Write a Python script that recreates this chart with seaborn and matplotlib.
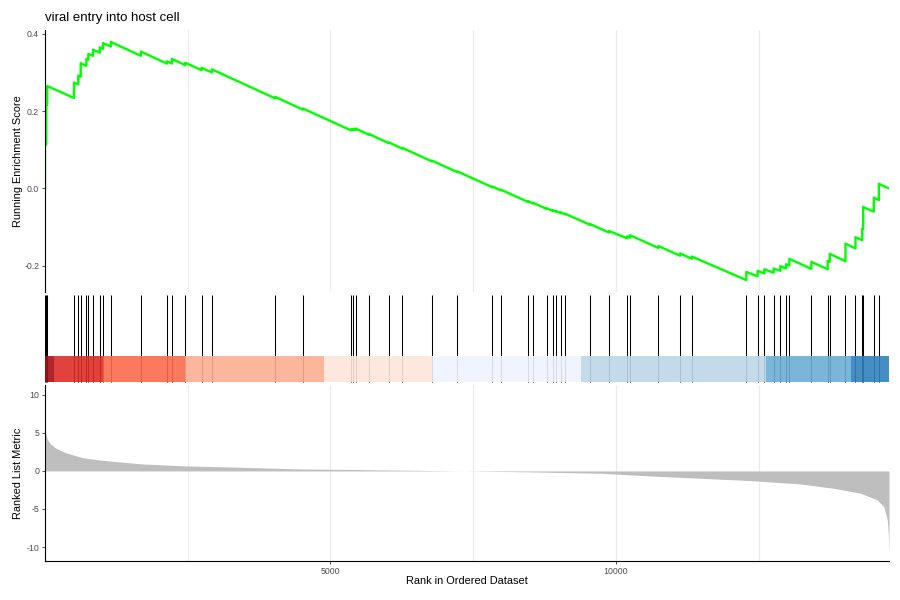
import matplotlib
matplotlib.use("Agg")
import numpy as np
import pandas as pd
import matplotlib.pyplot as plt
import seaborn as sns

# ---- data ----
N_GENES = 14780

hit_ranks = [1, 23, 40, 509, 584, 626, 725, 760, 842, 960, 1018, 1153,
             1679, 2135, 2223, 2456, 2742, 2925, 4030, 4514,
             5363, 5391, 5439, 5672, 6023, 6258, 6777, 7223,
             7837, 7982, 8461, 8549, 8784, 8889, 8947, 9035, 9105,
             9544, 9877, 10198, 10246, 10742, 11123, 11328,
             12281, 12479, 12596, 12760, 12877, 12977, 13035,
             13421, 13707, 13742, 14018, 14193, 14311, 14328, 14514, 14602]

# running enrichment score just before / just after each hit
es_before = [0.000, 0.114, 0.217, 0.234, 0.269, 0.289, 0.317, 0.333, 0.343, 0.351, 0.361, 0.367,
             0.343, 0.323, 0.323, 0.319, 0.306, 0.300, 0.233, 0.204,
             0.150, 0.151, 0.151, 0.139, 0.117, 0.103, 0.070, 0.042,
             0.003, -0.005, -0.035, -0.039, -0.053, -0.058, -0.060, -0.064, -0.067,
             -0.094, -0.114, -0.129, -0.127, -0.154, -0.174, -0.182,
             -0.237, -0.227, -0.220, -0.218, -0.213, -0.207, -0.199,
             -0.208, -0.209, -0.190, -0.188, -0.155, -0.134, -0.105, -0.060, -0.030]
es_after = [0.115, 0.218, 0.265, 0.274, 0.292, 0.324, 0.335, 0.348, 0.359, 0.365, 0.376, 0.379,
            0.354, 0.329, 0.335, 0.325, 0.312, 0.308, 0.237, 0.207,
            0.153, 0.154, 0.155, 0.141, 0.119, 0.105, 0.072, 0.044,
            0.005, -0.003, -0.033, -0.037, -0.051, -0.056, -0.058, -0.062, -0.065,
            -0.092, -0.110, -0.124, -0.121, -0.149, -0.168, -0.176,
            -0.216, -0.213, -0.209, -0.207, -0.201, -0.196, -0.182,
            -0.190, -0.188, -0.169, -0.143, -0.126, -0.104, -0.048, -0.024, 0.012]
es_end = 0.0

metric_ranks = [1, 12, 40, 90, 188, 363, 654, 947, 1240, 1707, 2468, 3404, 4456,
                5500, 6500, 7300, 8500, 9000, 9719, 10596, 11474, 12351, 13228,
                13812, 14281, 14573, 14690, 14749, 14770, 14780]
metric_values = [6.6, 5.0, 4.2, 3.6, 3.0, 2.4, 1.75, 1.45, 1.23, 0.92, 0.66, 0.49, 0.26,
                 0.18, 0.08, 0.0, -0.12, -0.2, -0.3, -0.66, -0.96, -1.27, -1.71,
                 -2.28, -2.93, -3.8, -4.7, -6.4, -8.5, -10.8]

bar_edges = [1, 158, 1018, 2456, 4895, 6777, 9386, 12626, 14118, 14780]
bar_colors = ["#A50F15", "#DE2D26", "#FB6A4A", "#FCAE91", "#FEE5D9",
              "#EFF3FF", "#BDD7E7", "#6BAED6", "#3182BD"]

title = "viral entry into host cell"

# ---- style ----
sns.set_style("white")
plt.rcParams["font.family"] = ["Liberation Sans", "DejaVu Sans"]
plt.rcParams["axes.unicode_minus"] = False

tick_kw = dict(labelsize=6.3, labelcolor="#4D4D4D", length=2, width=0.6,
               color="#333333", pad=2.2)

# running score as a sawtooth line
es_df = pd.DataFrame({
    "rank": [r for r in hit_ranks for _ in (0, 1)] + [N_GENES],
    "es": [v for pair in zip(es_before, es_after) for v in pair] + [es_end],
})

fig = plt.figure(figsize=(9, 6), dpi=100)
ax1 = fig.add_axes([45 / 900, 1 - 292 / 600, 844 / 900, 262 / 600])
ax2 = fig.add_axes([45 / 900, 1 - 385 / 600, 844 / 900, 93 / 600])
ax3 = fig.add_axes([45 / 900, 1 - 561 / 600, 844 / 900, 176 / 600])

for ax in (ax1, ax3):
    ax.set_xlim(1, N_GENES)
    ax.set_xticks([5000, 10000])
    ax.set_xticks([2500, 7500, 12500], minor=True)
    ax.grid(True, which="both", axis="x", color="#EBEBEB", linewidth=0.8)
    ax.set_axisbelow(True)
    for side in ("left", "bottom"):
        ax.spines[side].set_color("black")
        ax.spines[side].set_linewidth(0.8)

# top panel: running enrichment score
sns.lineplot(data=es_df, x="rank", y="es", sort=False, estimator=None,
             color="#00FF00", linewidth=1.7, ax=ax1)
ax1.margins(x=0, y=0.05)
ax1.set_xlim(1, N_GENES)
sns.despine(ax=ax1, bottom=True)
ax1.set_yticks([-0.2, 0.0, 0.2, 0.4])
ax1.set_yticklabels(["-0.2", "0.0", "0.2", "0.4"])
ax1.tick_params(axis="y", left=True, **tick_kw)
ax1.tick_params(axis="x", which="both", length=0, labelbottom=False)
ax1.set_xlabel("")
ax1.set_ylabel("Running Enrichment Score", fontsize=7.9, color="black")
ax1.yaxis.set_label_coords(-0.026, 0.5)
ax1.set_title(title, loc="left", fontsize=9.5, pad=6.5, color="black")

# middle panel: gene hits and rank colour bar
ax2.vlines(hit_ranks, 0, 1, color="black", linewidth=0.75)
ax2.bar(bar_edges[:-1], 0.3, width=np.diff(bar_edges), align="edge",
        color=bar_colors, alpha=0.9, linewidth=0, zorder=3)
ax2.set_xlim(1, N_GENES)
ax2.set_ylim(-0.03, 1.035)
ax2.axis("off")

# bottom panel: ranked list metric
ax3.fill_between(metric_ranks, metric_values, 0, color="#BEBEBE", linewidth=0)
ax3.set_ylim(-11.84, 11.3)
ax3.set_yticks([-10, -5, 0, 5, 10])
sns.despine(ax=ax3)
ax3.tick_params(axis="both", which="major", left=True, bottom=True, **tick_kw)
ax3.tick_params(axis="x", which="minor", length=0)
ax3.set_xticklabels(["5000", "10000"])
ax3.set_xlabel("Rank in Ordered Dataset", fontsize=7.9, color="black")
ax3.set_ylabel("Ranked List Metric", fontsize=7.9, color="black")
ax3.xaxis.set_label_coords(0.5, -0.085)
ax3.yaxis.set_label_coords(-0.026, 0.5)

fig.savefig("out.png", dpi=100)
